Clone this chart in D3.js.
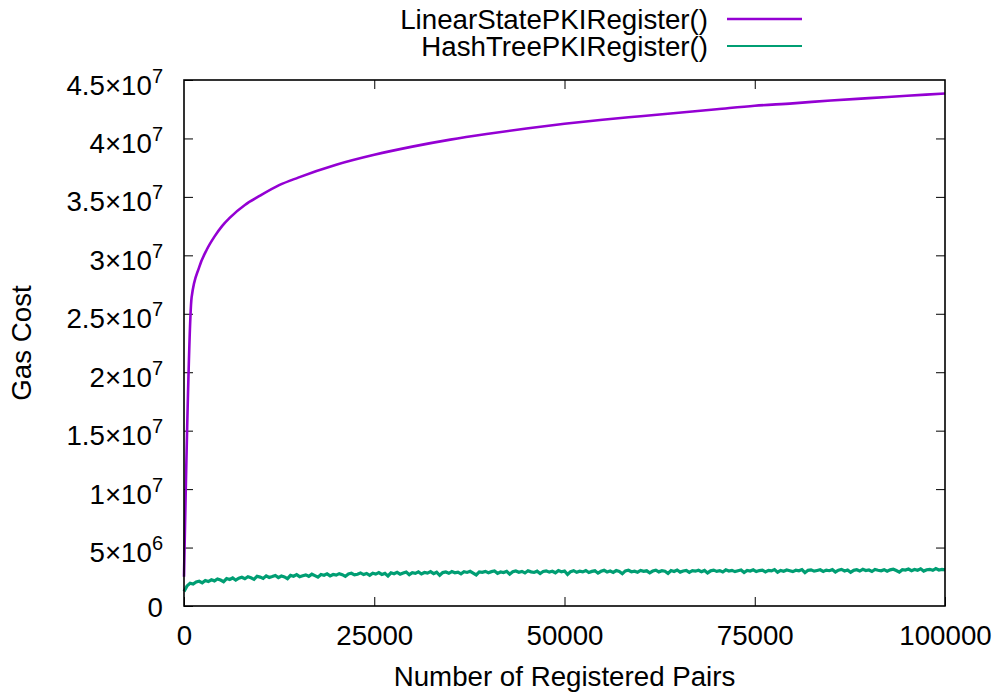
<!DOCTYPE html>
<html>
<head>
<meta charset="utf-8">
<script src="https://cdn.jsdelivr.net/npm/d3@7"></script>
<style>
  body { margin: 0; background: #fff; }
  svg { display: block; font-family: "Liberation Sans", Arial, sans-serif; }
  .axis path.domain { display: none; }
  .axis line { stroke: #000; stroke-width: 1; }
</style>
</head>
<body>
<svg id="chart" width="999" height="696"></svg>
<script>
// registered pairs vs gas cost
var linearN = [0, 1000, 2000, 3000, 4000, 5000, 6000, 8000, 10000, 12500, 15000, 20000, 25000,
    30000, 35000, 40000, 45000, 50000, 55000, 60000, 65000, 70000, 75000, 80000, 85000, 90000, 95000, 100000];
var linearGas = [2.5e6, 2.64e7, 2.90e7, 3.05e7, 3.16e7, 3.25e7, 3.32e7, 3.43e7, 3.51e7, 3.60e7, 3.665e7, 3.775e7, 3.86e7,
    3.93e7, 3.99e7, 4.04e7, 4.085e7, 4.125e7, 4.16e7, 4.19e7, 4.22e7, 4.25e7, 4.28e7, 4.30e7, 4.325e7, 4.345e7, 4.365e7, 4.385e7];

// hash tree series, one sample every 400 pairs (values in millions of gas)
var hashStep = 400;
var hashGasM = [
    1.25, 1.72, 1.95, 1.88, 2.06, 2.12, 1.98, 2.18, 2.09, 2.24,
    2.15, 2.31, 2.22, 2.08, 2.35, 2.27, 2.40, 2.21, 2.38, 2.46,
    2.33, 2.50, 2.41, 2.28, 2.55, 2.47, 2.36, 2.58, 2.44, 2.52,
    2.61, 2.43, 2.56, 2.49, 2.34, 2.62, 2.55, 2.68, 2.51, 2.59,
    2.66, 2.54, 2.72, 2.60, 2.47, 2.69, 2.63, 2.75, 2.58, 2.70,
    2.64, 2.77, 2.68, 2.53, 2.74, 2.80, 2.66, 2.71, 2.83, 2.69,
    2.78, 2.62, 2.81, 2.73, 2.86, 2.70, 2.79, 2.57, 2.84, 2.76,
    2.88, 2.72, 2.83, 2.90, 2.68, 2.85, 2.79, 2.92, 2.74, 2.87,
    2.81, 2.94, 2.77, 2.89, 2.63, 2.86, 2.91, 2.80, 2.95, 2.84,
    2.90, 2.75, 2.93, 2.87, 2.97, 2.82, 2.66, 2.92, 2.88, 2.96,
    2.85, 2.94, 2.99, 2.79, 2.91, 2.86, 2.97, 2.72, 2.93, 3.00,
    2.89, 2.96, 2.83, 3.02, 2.92, 2.87, 2.98, 2.78, 2.95, 3.01,
    2.90, 2.97, 2.84, 3.03, 2.93, 2.99, 2.70, 2.94, 3.02, 2.88,
    2.98, 2.92, 3.04, 2.86, 2.96, 3.01, 2.81, 2.97, 3.05, 2.91,
    2.99, 2.87, 3.03, 2.95, 2.76, 3.00, 3.06, 2.93, 2.98, 2.89,
    3.04, 2.96, 3.01, 2.84, 2.99, 3.07, 2.92, 3.02, 2.97, 2.79,
    3.03, 2.95, 3.08, 2.90, 3.00, 3.05, 2.88, 3.02, 2.98, 3.06,
    2.93, 3.04, 2.83, 3.01, 3.07, 2.96, 3.03, 2.91, 3.09, 2.99,
    3.05, 2.94, 3.02, 3.08, 2.86, 3.04, 2.99, 3.10, 2.95, 3.03,
    3.07, 2.92, 3.05, 3.00, 3.11, 2.89, 3.04, 2.97, 3.08, 3.02,
    2.94, 3.06, 3.01, 3.12, 2.85, 3.05, 3.09, 2.98, 3.04, 3.10,
    2.96, 3.07, 3.02, 3.11, 2.91, 3.06, 3.13, 3.00, 3.08, 2.88,
    3.05, 3.10, 2.99, 3.14, 3.03, 3.08, 2.95, 3.12, 3.06, 3.01,
    3.11, 2.97, 3.09, 3.15, 3.04, 2.90, 3.10, 3.07, 3.16, 3.02,
    3.12, 3.06, 3.18, 2.99, 3.10, 3.14, 3.05, 3.20, 3.08, 3.13, 3.09
];

var xTicks = [0, 25000, 50000, 75000, 100000];
var yTicks = [0, 5e6, 1e7, 1.5e7, 2e7, 2.5e7, 3e7, 3.5e7, 4e7, 4.5e7];
var yTickLabels = [["0", ""], ["5\u00d710", "6"], ["1\u00d710", "7"], ["1.5\u00d710", "7"], ["2\u00d710", "7"],
    ["2.5\u00d710", "7"], ["3\u00d710", "7"], ["3.5\u00d710", "7"], ["4\u00d710", "7"], ["4.5\u00d710", "7"]];

var seriesNames = ["LinearStatePKIRegister()", "HashTreePKIRegister()"];
var seriesColors = ["#9400d3", "#009e73"];

var plot = {left: 184, right: 945, top: 80, bottom: 606};
var fontSize = 27.7;

var svg = d3.select("#chart");

var x = d3.scaleLinear().domain([0, 100000]).range([plot.left, plot.right]);
var y = d3.scaleLinear().domain([0, 4.5e7]).range([plot.bottom, plot.top]);

// ticks point inward, mirrored on the other sides
svg.append("g").attr("class", "axis")
    .attr("transform", "translate(0," + plot.bottom + ")")
    .call(d3.axisBottom(x).tickValues(xTicks).tickSizeInner(-9).tickSizeOuter(0).tickPadding(19)
        .tickFormat(d3.format("d")))
    .selectAll("text")
    .style("font-size", fontSize + "px")
    .attr("fill", "#000");

svg.append("g").attr("class", "axis")
    .attr("transform", "translate(0," + plot.top + ")")
    .call(d3.axisTop(x).tickValues(xTicks.slice(1, -1)).tickSizeInner(-9).tickSizeOuter(0).tickFormat(""));

var yAxisG = svg.append("g").attr("class", "axis")
    .attr("transform", "translate(" + plot.left + ",0)")
    .call(d3.axisLeft(y).tickValues(yTicks).tickSizeInner(-9).tickSizeOuter(0).tickPadding(21).tickFormat(""));

yAxisG.selectAll(".tick text").each(function(d, i) {
    var t = d3.select(this)
        .attr("dy", null)
        .attr("y", yTickLabels[i][1] ? 14 : 10)
        .attr("text-anchor", "end")
        .attr("fill", "#000")
        .style("font-size", fontSize + "px");
    t.append("tspan").text(yTickLabels[i][0]);
    if (yTickLabels[i][1]) {
        t.append("tspan").attr("dy", -12).style("font-size", "20px").text(yTickLabels[i][1]);
    }
});

svg.append("g").attr("class", "axis")
    .attr("transform", "translate(" + plot.right + ",0)")
    .call(d3.axisRight(y).tickValues(yTicks.slice(1, -1)).tickSizeInner(-9).tickSizeOuter(0).tickFormat(""));

// lines
var linearData = linearN.map(function(n, i) { return [n, linearGas[i]]; });
var hashData = hashGasM.map(function(v, i) { return [i * hashStep, v * 1e6]; });

var line = d3.line()
    .x(function(d) { return x(d[0]); })
    .y(function(d) { return y(d[1]); });

svg.append("path")
    .datum(hashData)
    .attr("fill", "none")
    .attr("stroke", seriesColors[1])
    .attr("stroke-width", 3.2)
    .attr("stroke-linejoin", "miter")
    .attr("d", line);

svg.append("path")
    .datum(linearData)
    .attr("fill", "none")
    .attr("stroke", seriesColors[0])
    .attr("stroke-width", 2.6)
    .attr("stroke-linejoin", "round")
    .attr("d", line.curve(d3.curveMonotoneX));

// frame
svg.append("rect")
    .attr("x", plot.left)
    .attr("y", plot.top)
    .attr("width", plot.right - plot.left)
    .attr("height", plot.bottom - plot.top)
    .attr("fill", "none")
    .attr("stroke", "#000")
    .attr("stroke-width", 1.6);

// axis titles
svg.append("text")
    .attr("x", (plot.left + plot.right) / 2)
    .attr("y", 686)
    .attr("text-anchor", "middle")
    .style("font-size", fontSize + "px")
    .text("Number of Registered Pairs");

svg.append("text")
    .attr("transform", "translate(31," + ((plot.top + plot.bottom) / 2) + ") rotate(-90)")
    .attr("text-anchor", "middle")
    .style("font-size", fontSize + "px")
    .text("Gas Cost");

// legend
var legend = svg.append("g").selectAll("g")
    .data(seriesNames)
    .enter().append("g")
    .attr("transform", function(d, i) { return "translate(0," + (19 + 27 * i) + ")"; });

legend.append("text")
    .attr("x", 708)
    .attr("y", 10)
    .attr("text-anchor", "end")
    .style("font-size", fontSize + "px")
    .text(function(d) { return d; });

legend.append("line")
    .attr("x1", 727)
    .attr("x2", 802)
    .attr("y1", 0)
    .attr("y2", 0)
    .attr("stroke", function(d, i) { return seriesColors[i]; })
    .attr("stroke-width", function(d, i) { return i === 0 ? 2.6 : 2.2; });
</script>
</body>
</html>
